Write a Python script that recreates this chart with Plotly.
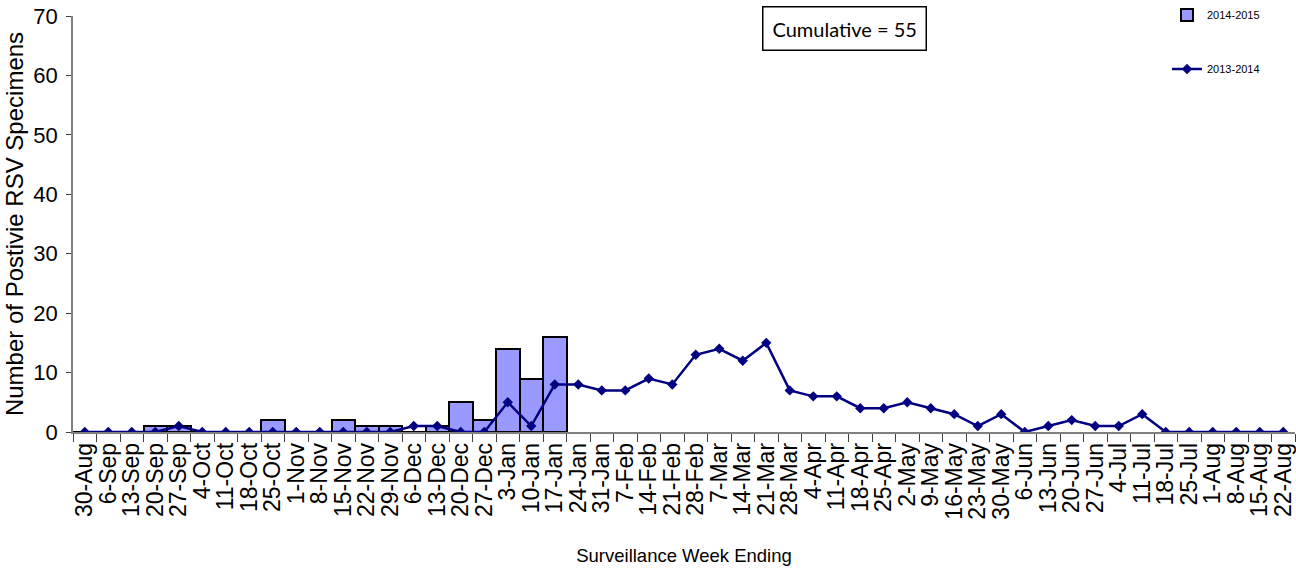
import plotly.graph_objects as go

weeks = ["30-Aug", "6-Sep", "13-Sep", "20-Sep", "27-Sep", "4-Oct", "11-Oct", "18-Oct",
         "25-Oct", "1-Nov", "8-Nov", "15-Nov", "22-Nov", "29-Nov", "6-Dec", "13-Dec",
         "20-Dec", "27-Dec", "3-Jan", "10-Jan", "17-Jan", "24-Jan", "31-Jan", "7-Feb",
         "14-Feb", "21-Feb", "28-Feb", "7-Mar", "14-Mar", "21-Mar", "28-Mar", "4-Apr",
         "11-Apr", "18-Apr", "25-Apr", "2-May", "9-May", "16-May", "23-May", "30-May",
         "6-Jun", "13-Jun", "20-Jun", "27-Jun", "4-Jul", "11-Jul", "18-Jul", "25-Jul",
         "1-Aug", "8-Aug", "15-Aug", "22-Aug"]

season_2014_2015 = [0, 0, 0, 1, 1, 0, 0, 0, 2, 0, 0, 2, 1, 1, 0, 1, 5, 2, 14, 9, 16] + [None] * 31

season_2013_2014 = [0, 0, 0, 0, 1, 0, 0, 0, 0, 0, 0, 0, 0, 0, 1, 1, 0, 0, 5, 1, 8,
                    8, 7, 7, 9, 8, 13, 14, 12, 15, 7, 6, 6, 4, 4, 5, 4, 3, 1, 3,
                    0, 1, 2, 1, 1, 3, 0, 0, 0, 0, 0, 0]

cumulative = sum(v for v in season_2014_2015 if v is not None)

SANS = "Liberation Sans, Arial, sans-serif"

ML, MR, MT, MB = 73, 1, 16, 143
W, H = 1296, 575
PW, PH = W - ML - MR, H - MT - MB

fig = go.Figure()
fig.add_trace(go.Bar(
    x=weeks, y=season_2014_2015, name="2014-2015",
    marker=dict(color="#9999FF", line=dict(color="black", width=2)),
    legendgroup="a",
))
fig.add_trace(go.Scatter(
    x=weeks, y=season_2013_2014, name="2013-2014", mode="lines+markers",
    line=dict(color="#000080", width=2.5),
    marker=dict(symbol="diamond", size=8, color="#000080"),
    legendgroup="b",
))

fig.update_layout(
    width=W, height=H,
    margin=dict(l=ML, r=MR, t=MT, b=MB, autoexpand=False),
    paper_bgcolor="white", plot_bgcolor="white",
    bargap=0,
    showlegend=True,
    legend=dict(x=(1167 - ML) / PW, xanchor="left", y=1 + (MT - 0.5) / PH, yanchor="top",
                font=dict(family=SANS, size=11, color="black"),
                tracegroupgap=35, bgcolor="rgba(0,0,0,0)"),
    xaxis=dict(
        type="category", categoryorder="array", categoryarray=weeks,
        range=[-0.5, len(weeks) - 0.5], automargin=False,
        tickson="boundaries", ticks="outside", ticklen=8, tickcolor="#404040", tickwidth=1,
        showline=True, linecolor="#808080", linewidth=1.5,
        tickangle=-90, tickmode="linear", dtick=1,
        tickfont=dict(family=SANS, size=23, color="black"),
        showgrid=False, zeroline=False,
        title=dict(text="Surveillance Week Ending", standoff=30,
                   font=dict(family=SANS, size=18.5, color="black")),
    ),
    xaxis2=dict(
        overlaying="x", anchor="y", range=[-0.5, len(weeks) - 0.5], automargin=False,
        tickmode="linear", tick0=-0.5, dtick=1,
        ticks="inside", ticklen=8, tickcolor="#404040", tickwidth=1,
        showticklabels=False, showgrid=False, zeroline=False, showline=False,
        side="bottom",
    ),
    yaxis=dict(
        range=[0, 70], dtick=10, ticks="outside", ticklen=5, tickcolor="#404040",
        showline=True, linecolor="#808080", linewidth=1.5, automargin=False,
        tickfont=dict(family=SANS, size=22, color="black"),
        ticklabelstandoff=4,
        showgrid=False, zeroline=False,
        title=dict(text="Number of Postivie RSV Specimens", standoff=3,
                   font=dict(family=SANS, size=24, color="black")),
    ),
    yaxis2=dict(
        overlaying="y", anchor="x", range=[0, 70], dtick=10, automargin=False,
        ticks="inside", ticklen=6, tickcolor="#404040",
        showticklabels=False, showgrid=False, zeroline=False, showline=False,
    ),
    annotations=[dict(
        text=f"Cumulative = {cumulative}", xref="paper", yref="paper",
        x=(844 - ML) / PW, y=1 + (MT - 28.5) / PH, xanchor="center", yanchor="middle",
        showarrow=False, font=dict(family="Lato, Open Sans, sans-serif", size=20, color="black"),
        bordercolor="black", borderwidth=1.5, borderpad=9, bgcolor="white",
    )],
)

fig.write_html("out.html", config={"displayModeBar": False},
               post_script="document.body.style.margin='0';")
